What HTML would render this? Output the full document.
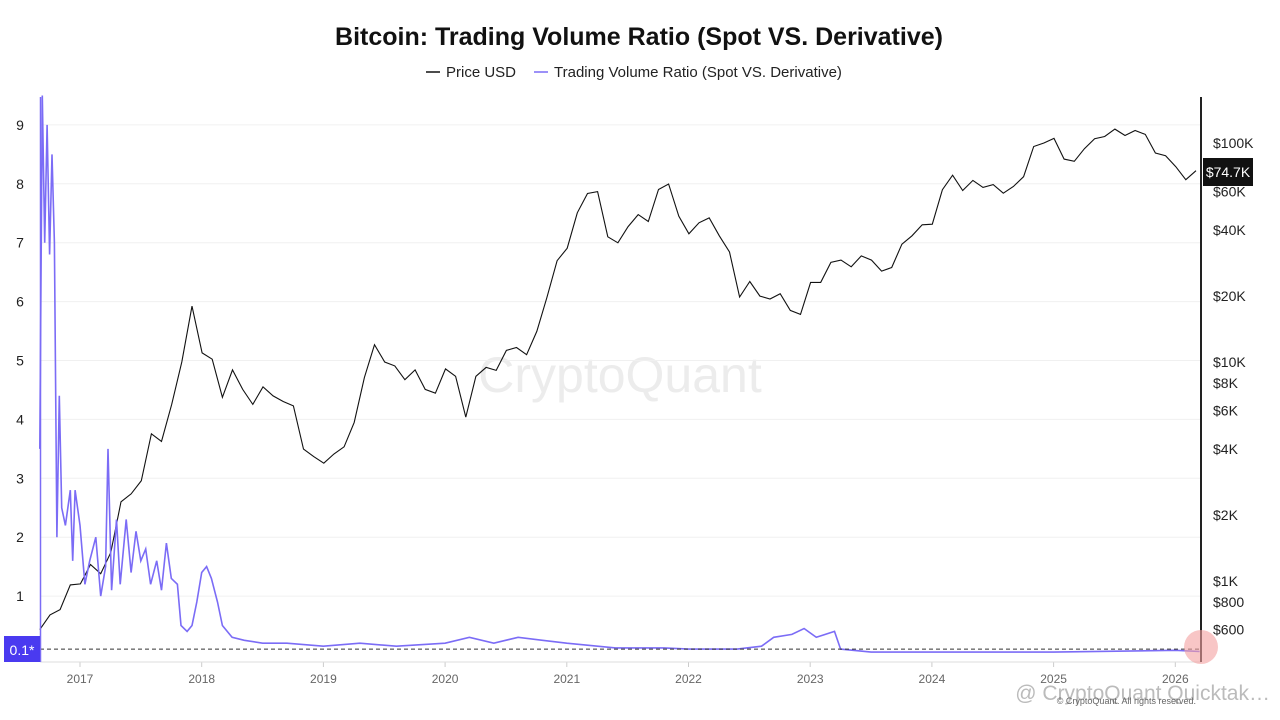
<!DOCTYPE html>
<html><head><meta charset="utf-8"><style>
body{margin:0;background:#fff;font-family:"Liberation Sans",sans-serif;}
svg{display:block}
</style></head><body>
<svg width="1280" height="720" viewBox="0 0 1280 720">
<text x="639" y="45" text-anchor="middle" font-size="25" font-weight="bold" fill="#111">Bitcoin: Trading Volume Ratio (Spot VS. Derivative)</text>
<g font-size="15" fill="#222">
<line x1="426" y1="72" x2="440" y2="72" stroke="#111" stroke-width="1.5"/>
<text x="446" y="77">Price USD</text>
<line x1="534" y1="72" x2="548" y2="72" stroke="#7b6cf6" stroke-width="1.5"/>
<text x="554" y="77">Trading Volume Ratio (Spot VS. Derivative)</text>
</g>
<text x="620" y="392" text-anchor="middle" font-size="50" fill="#ececec">CryptoQuant</text>
<g id="grid"></g>
<g id="ylab" font-size="14" fill="#222"></g>
<g id="plab" font-size="14" fill="#222"></g>
<g id="xlab" font-size="12" fill="#666"></g>
<line x1="40" y1="662" x2="1201" y2="662" stroke="#ddd"/>
<path id="price" fill="none" stroke="#111" stroke-width="1.1"/>
<path id="ratio" fill="none" stroke="#7b6cf6" stroke-width="1.6"/>
<line id="ref" x1="40" x2="1201" stroke="#333" stroke-dasharray="4,3" stroke-width="1"/>
<line x1="40.5" y1="97" x2="40.5" y2="662" stroke="#7b6cf6" stroke-width="1.5"/>
<line x1="1201" y1="97" x2="1201" y2="662" stroke="#222" stroke-width="2"/>
<rect x="4" y="636" width="36" height="26" fill="#4a3af0"/>
<text x="22" y="655" text-anchor="middle" font-size="14" fill="#fff">0.1*</text>
<rect x="1203" y="158" width="50" height="28" fill="#111"/>
<text x="1228" y="177" text-anchor="middle" font-size="14" fill="#fff">$74.7K</text>
<circle cx="1201" cy="647" r="17" fill="#f4a0a0" opacity="0.6"/>
<text x="1270" y="700" text-anchor="end" font-size="21" fill="#bbb">@ CryptoQuant Quicktak…</text>
<text x="1196" y="704" text-anchor="end" font-size="9" fill="#666">© CryptoQuant. All rights reserved.</text>
</svg>
<script>
const ratioTicks=[1,2,3,4,5,6,7,8,9];
const priceTicks=[600,800,1000,2000,4000,6000,8000,10000,20000,40000,60000,100000];
const priceTickLabels=["$600","$800","$1K","$2K","$4K","$6K","$8K","$10K","$20K","$40K","$60K","$100K"];
const yearTicks=[2017,2018,2019,2020,2021,2022,2023,2024,2025,2026];
const priceStart=2016.67;
const priceValues=[600,700,740,960,
970,1190,1080,1350,2300,2500,2870,4700,4340,6400,10000,18000,
11000,10300,6900,9200,7500,6400,7700,7000,6600,6300,4000,3700,
3450,3800,4100,5300,8500,12000,10000,9600,8300,9200,7500,7200,
9300,8600,5600,8600,9450,9150,11300,11650,10800,13800,19700,29000,
33100,48000,58800,60000,37300,35000,41500,47100,43800,61300,65000,46300,
38500,43200,45500,37700,31800,19800,23300,20000,19400,20500,17200,16500,
23100,23100,28500,29200,27200,30500,29200,26000,27000,34500,37700,42300,
42600,61200,71300,60700,67500,62700,64600,59000,63300,70200,96400,100000,
105000,84400,82500,94200,104600,107100,115700,108200,114000,109500,90000,87500,
78000,68000,74700];
const ratioDates=[2016.67,2016.69,2016.71,2016.73,2016.75,2016.77,2016.79,2016.81,2016.83,2016.85,2016.88,2016.92,2016.94,2016.96,2017.0,2017.04,2017.08,2017.13,2017.17,2017.21,2017.23,2017.26,2017.3,2017.33,2017.38,2017.42,2017.46,2017.5,2017.54,2017.58,2017.63,2017.67,2017.71,2017.75,2017.8,2017.83,2017.88,2017.92,2017.96,2018.0,2018.04,2018.08,2018.13,2018.17,2018.25,2018.35,2018.5,2018.7,2019.0,2019.3,2019.6,2020.0,2020.2,2020.4,2020.6,2020.8,2021.0,2021.4,2021.8,2022.0,2022.4,2022.6,2022.7,2022.85,2022.95,2023.05,2023.2,2023.25,2023.5,2024.0,2025.0,2026.0,2026.2];
const ratioValues=[3.5,9.5,7,9,6.8,8.5,7.0,2,4.4,2.5,2.2,2.8,1.6,2.8,2.2,1.2,1.6,2.0,1.0,1.5,3.5,1.1,2.3,1.2,2.3,1.4,2.1,1.6,1.8,1.2,1.6,1.1,1.9,1.3,1.2,0.5,0.4,0.5,0.9,1.4,1.5,1.3,0.9,0.5,0.3,0.25,0.2,0.2,0.15,0.2,0.15,0.2,0.3,0.2,0.3,0.25,0.2,0.12,0.12,0.1,0.1,0.15,0.3,0.35,0.45,0.3,0.4,0.1,0.05,0.05,0.05,0.08,0.06];
const refValue=0.1;

const NS="http://www.w3.org/2000/svg";
const X=t=>80+(t-2017)*121.7;
const YR=v=>655-v*58.9;
const YP=p=>362-219*Math.log10(p/10000);
const grid=document.getElementById('grid');
ratioTicks.forEach(v=>{
 const l=document.createElementNS(NS,'line');
 l.setAttribute('x1',40);l.setAttribute('x2',1201);l.setAttribute('y1',YR(v));l.setAttribute('y2',YR(v));
 l.setAttribute('stroke','#f0f0f0');
 
 
 grid.appendChild(l);
 const t=document.createElementNS(NS,'text');
 t.setAttribute('x',20);t.setAttribute('y',YR(v)+5);t.setAttribute('text-anchor','middle');t.textContent=v;
 
 
 document.getElementById('ylab').appendChild(t);
});
priceTicks.forEach((p,i)=>{
 const t=document.createElementNS(NS,'text');
 t.setAttribute('x',1213);t.setAttribute('y',YP(p)+5);t.textContent=priceTickLabels[i];
 
 
 document.getElementById('plab').appendChild(t);
});
yearTicks.forEach(y=>{
 const t=document.createElementNS(NS,'text');
 t.setAttribute('x',X(y));t.setAttribute('y',683);t.setAttribute('text-anchor','middle');t.textContent=y;
 
 
 document.getElementById('xlab').appendChild(t);
 const k=document.createElementNS(NS,'line');
 k.setAttribute('x1',X(y));k.setAttribute('x2',X(y));k.setAttribute('y1',662);k.setAttribute('y2',667);k.setAttribute('stroke','#ccc');
 
 
 document.getElementById('xlab').appendChild(k);
});
let d='';
priceValues.forEach((p,i)=>{const t=priceStart+i/12;d+=(i?'L':'M')+Math.min(X(t),1200).toFixed(1)+','+YP(p).toFixed(1);});
document.getElementById('price').setAttribute('d',d);
d='';
ratioValues.forEach((v,i)=>{d+=(i?'L':'M')+Math.min(X(ratioDates[i]),1200).toFixed(1)+','+YR(v).toFixed(1);});
document.getElementById('ratio').setAttribute('d',d);
const r=document.getElementById('ref');r.setAttribute('y1',YR(refValue));r.setAttribute('y2',YR(refValue));
</script>
</body></html>
